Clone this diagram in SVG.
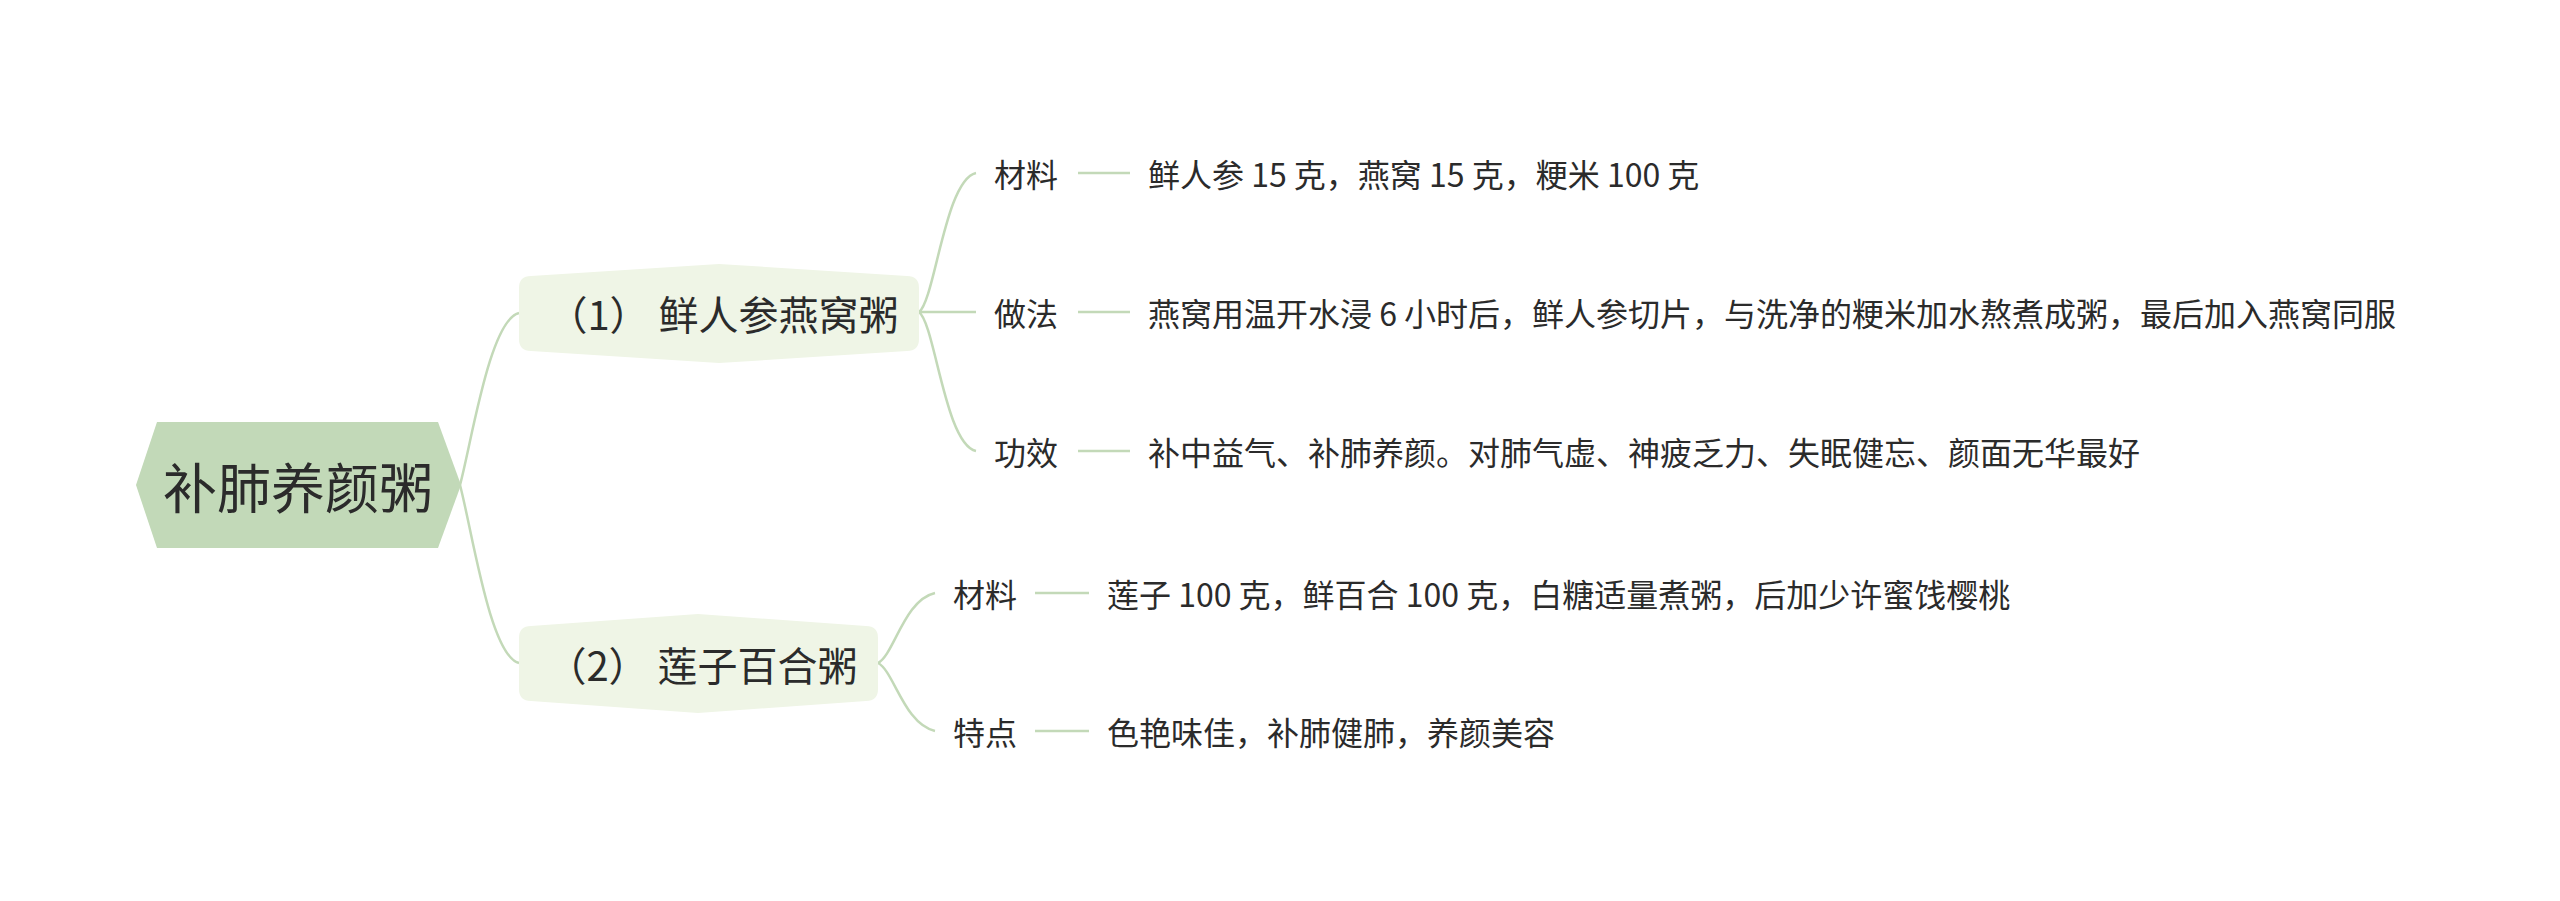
<svg xmlns="http://www.w3.org/2000/svg" width="2560" height="901" viewBox="0 0 2560 901">
<style>
text{font-family:"Noto Sans CJK SC","Noto Sans",sans-serif;fill:#2b2b2b;dominant-baseline:central}
.root{font-size:54px}
.l1{font-size:40px}
.l2{font-size:32px}
.conn path,.conn line{fill:none;stroke:#c3d9b8;stroke-width:2.5}
.dash{stroke:#c3d9b8;stroke-width:3}
</style>
<rect width="2560" height="901" fill="#ffffff"/>
<g id="connectors" class="conn">
<path d="M460 485 C472 440 490 320 519 313"/>
<path d="M460 485 C472 530 490 656 519 663"/>
<path d="M919 312 C935 300 945 180 976 173"/>
<line x1="919" y1="312" x2="976" y2="312"/>
<path d="M919 312 C935 324 945 444 976 451"/>
<path d="M878 663 C894 655 904 600 935 593"/>
<path d="M878 663 C894 671 904 724 935 731"/>
<line class="dash" x1="1078" y1="173" x2="1130" y2="173"/>
<line class="dash" x1="1078" y1="312" x2="1130" y2="312"/>
<line class="dash" x1="1078" y1="451" x2="1130" y2="451"/>
<line class="dash" x1="1035" y1="593" x2="1089" y2="593"/>
<line class="dash" x1="1035" y1="731" x2="1089" y2="731"/>
</g>
<g id="root">
<polygon points="136,485 157,422 438,422 461,485 438,548 157,548" fill="#c2d9b8"/>
<text class="root" x="298" y="485" text-anchor="middle">补肺养颜粥</text>
</g>
<g id="n1">
<path d="M531 276 L719 264 L907 276 Q919 276 919 288 L919 339 Q919 351 907 351 L719 363 L531 351 Q519 351 519 339 L519 288 Q519 276 531 276 Z" fill="#eff5e6"/>
<text class="l1" x="723" y="313" text-anchor="middle">（1） 鲜人参燕窝粥</text>
</g>
<g id="n1a"><text class="l2" x="994" y="173">材料</text><text class="l2" x="1148" y="173">鲜人参 15 克，燕窝 15 克，粳米 100 克</text></g>
<g id="n1b"><text class="l2" x="994" y="312">做法</text><text class="l2" x="1148" y="312">燕窝用温开水浸 6 小时后，鲜人参切片，与洗净的粳米加水熬煮成粥，最后加入燕窝同服</text></g>
<g id="n1c"><text class="l2" x="994" y="451">功效</text><text class="l2" x="1148" y="451">补中益气、补肺养颜。对肺气虚、神疲乏力、失眠健忘、颜面无华最好</text></g>
<g id="n2">
<path d="M531 626 L698 614 L866 626 Q878 626 878 638 L878 689 Q878 701 866 701 L698 713 L531 701 Q519 701 519 689 L519 638 Q519 626 531 626 Z" fill="#eff5e6"/>
<text class="l1" x="702" y="664" text-anchor="middle">（2） 莲子百合粥</text>
</g>
<g id="n2a"><text class="l2" x="953" y="593">材料</text><text class="l2" x="1107" y="593">莲子 100 克，鲜百合 100 克，白糖适量煮粥，后加少许蜜饯樱桃</text></g>
<g id="n2b"><text class="l2" x="953" y="731">特点</text><text class="l2" x="1107" y="731">色艳味佳，补肺健肺，养颜美容</text></g>
</svg>
